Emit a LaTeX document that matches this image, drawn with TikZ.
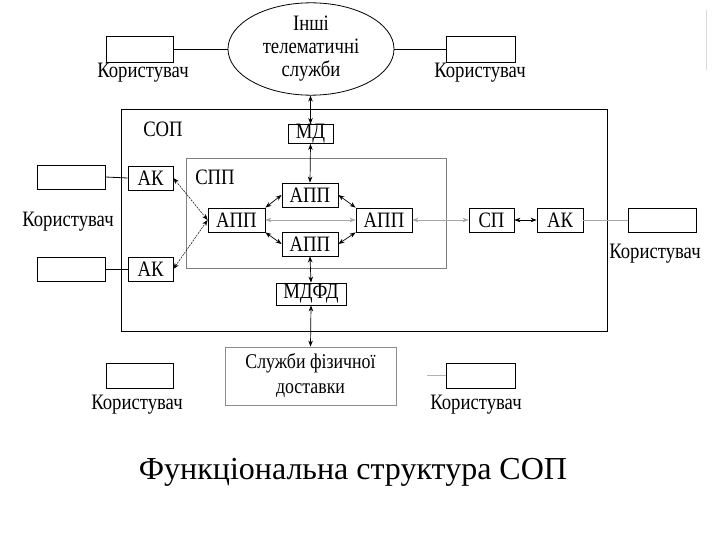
\documentclass[tikz,border=0pt]{standalone}
\usepackage{fontspec}
\setmainfont{Liberation Serif}
\newfontfamily\dfont{Liberation Serif}[FakeStretch=0.85]
\usetikzlibrary{arrows.meta,shapes.geometric}
\begin{document}
\begin{tikzpicture}[x=1pt,y=-1pt,
  dtext/.style={font=\dfont\fontsize{22}{23}\selectfont},
  box/.style={draw,line width=0.8pt,inner sep=0pt,dtext},
  ubox/.style={draw,line width=0.8pt,inner sep=0pt},
  lbl/.style={inner sep=0pt,dtext},
  arr/.style={{Stealth[length=6pt,width=4.5pt]}-{Stealth[length=6pt,width=4.5pt]},line width=0.7pt},
  garr/.style={arr,draw=black!35,line width=0.6pt},
  darr/.style={arr,line width=0.5pt,dash pattern=on 2pt off 1pt},
  conn/.style={line width=0.8pt},
]
\useasboundingbox (0,0) rectangle (720,540);
\fill[white] (0,0) rectangle (720,540);
\draw[black!15,line width=0.8pt] (706,10) -- (706,70);

% top
\node[draw,ellipse,line width=0.8pt,minimum width=166pt,minimum height=82pt,inner sep=0pt,align=center,dtext] (tel) at (311,49) {Інші\\телематичні\\служби};
\node[ubox,minimum width=67pt,minimum height=26pt] (u1) at (139.5,49) {};
\node[ubox,minimum width=69pt,minimum height=26pt] (u2) at (480.5,49) {};
\node[lbl] (lu1t) at (143,73) {Користувач};
\node[lbl] (lu2t) at (480,73) {Користувач};
\draw[conn] (u1.east) -- (tel.west);
\draw[conn] (tel.east) -- (u2.west);

% outer boxes
\node[draw,line width=0.7pt,minimum width=486pt,minimum height=222pt,inner sep=0pt] (sop) at (364,220) {};
\node[lbl] (soplbl) at (163,129) {СОП};
\node[draw=black!50,line width=0.7pt,minimum width=260pt,minimum height=110pt,inner sep=0pt] (spp) at (316,213) {};
\node[lbl] (spplbl) at (215,177) {СПП};

\node[box,minimum width=45pt,minimum height=18pt] (md) at (310.5,134) {МД};
\node[box,minimum width=45pt,minimum height=24pt] (ak1) at (150.5,178) {АК};
\node[box,minimum width=45pt,minimum height=24pt] (ak2) at (150.5,269) {АК};
\node[ubox,minimum width=68pt,minimum height=24pt] (lu1) at (71,177) {};
\node[ubox,minimum width=68pt,minimum height=24pt] (lu2) at (71,269) {};
\node[lbl] (lut) at (68,222) {Користувач};

\node[box,minimum width=57pt,minimum height=24pt] (apL) at (236.5,220) {АПП};
\node[box,minimum width=56pt,minimum height=24pt] (apT) at (310,195) {АПП};
\node[box,minimum width=56pt,minimum height=24pt] (apB) at (310,244) {АПП};
\node[box,minimum width=56pt,minimum height=24pt] (apR) at (384,220) {АПП};
\node[box,minimum width=45pt,minimum height=24pt] (sp) at (491.5,220) {СП};
\node[box,minimum width=46pt,minimum height=24pt] (akR) at (560,220) {АК};
\node[ubox,minimum width=68pt,minimum height=24pt] (ru) at (662,220) {};
\node[lbl] (rut) at (655,254) {Користувач};

\node[box,minimum width=70pt,minimum height=22pt] (mdfd) at (311,294) {МДФД};
\node[box,draw=black!45,minimum width=171pt,minimum height=58pt,align=center,font=\dfont\fontsize{21}{25}\selectfont] (phys) at (310.5,376) {Служби фізичної\\доставки};

\node[ubox,minimum width=67pt,minimum height=25pt] (bu1) at (139.5,375.5) {};
\node[ubox,minimum width=69pt,minimum height=25pt] (bu2) at (480.5,375.5) {};
\node[lbl] (bu1t) at (137,405) {Користувач};
\node[lbl] (bu2t) at (476,405) {Користувач};
\coordinate (bstub) at (427,375.5);
\draw[black!30,line width=0.6pt] (bstub) -- (bu2.west);

% connectors
\draw[arr] (tel.south -| md.north) -- (md.north);
\draw[arr] (md.south) -- (apT.north);
\draw[arr] (apB.south) -- (mdfd.north);
\draw[arr] (mdfd.south) -- (phys.north);
\draw[conn] (lu1.east) -- (ak1.west);
\draw[conn] (lu2.east) -- (ak2.west);
\draw[darr] (ak1.east) -- (apL.west);
\draw[darr] (ak2.east) -- (apL.west);
\draw[arr] (apL.north east) -- (apT.west);
\draw[arr] (apL.south east) -- (apB.west);
\draw[arr] (apT.east) -- (apR.north west);
\draw[arr] (apB.east) -- (apR.south west);
\draw[garr] (apL.east) -- (apR.west);
\draw[garr] (apR.east) -- (sp.west);
\draw[arr] (sp.east) -- (akR.west);
\draw[black!35,line width=0.6pt] (akR.east) -- (ru.west);

\node[font=\fontsize{32}{36}\selectfont,inner sep=0pt] (title) at (353,472) {Функціональна структура СОП};
\end{tikzpicture}
\end{document}
